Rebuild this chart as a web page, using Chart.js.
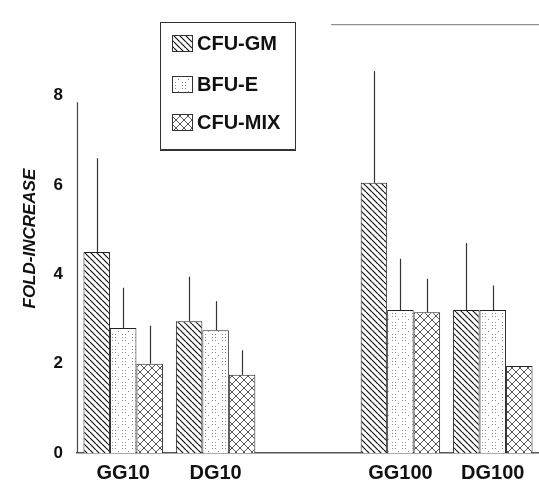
<!DOCTYPE html>
<html>
<head>
<meta charset="utf-8">
<script src="https://cdn.jsdelivr.net/npm/chart.js@4"></script>
<style>
  html, body { margin: 0; padding: 0; background: #fff; }
</style>
</head>
<body>
<canvas id="chart" width="539" height="482"></canvas>
<script>
// ---- data ----
const categories = ["GG10", "DG10", "", "GG100", "DG100"];
const seriesNames = ["CFU-GM", "BFU-E", "CFU-MIX"];
const cfuGM    = [4.5, 2.95, null, 6.05, 3.2];
const bfuE     = [2.8, 2.75, null, 3.2, 3.2];
const cfuMix   = [2.0, 1.75, null, 3.15, 1.95];
// upper end of each error bar
const cfuGMTop  = [6.6, 3.95, null, 8.55, 4.7];
const bfuETop   = [3.7, 3.4, null, 4.35, 3.75];
const cfuMixTop = [2.85, 2.3, null, 3.9, null];
const yTicks = [0, 2, 4, 6, 8];

const FONT = "'Liberation Sans', Arial, Helvetica, sans-serif";
Chart.defaults.font.family = FONT;

const ctx = document.getElementById("chart").getContext("2d");

// ---- fill patterns ----
function makePattern(w, h, draw) {
    const c = document.createElement("canvas");
    c.width = w; c.height = h;
    const g = c.getContext("2d");
    g.fillStyle = "#fff";
    g.fillRect(0, 0, w, h);
    draw(g, w, h);
    return ctx.createPattern(c, "repeat");
}

const diagPattern = makePattern(6, 6, (g, s) => {
    g.strokeStyle = "#111";
    g.lineWidth = 1.2;
    g.beginPath();
    [-1, 0, 1].forEach(k => { g.moveTo(k * s, 0); g.lineTo(k * s + s, s); });
    g.stroke();
});

const dotPattern = makePattern(10, 12, (g) => {
    g.fillStyle = "#8a8a8a";
    [[2, 1], [5, 1], [2, 4], [5, 4], [8, 7], [2, 10], [5, 10]].forEach(p => g.fillRect(p[0], p[1], 1, 1));
});

const crossPattern = makePattern(8, 8, (g, s) => {
    g.strokeStyle = "#444";
    g.lineWidth = 0.9;
    g.beginPath();
    [-1, 0, 1].forEach(k => {
        g.moveTo(k * s, 0); g.lineTo(k * s + s, s);
        g.moveTo(k * s + s, 0); g.lineTo(k * s, s);
    });
    g.stroke();
});

const patterns = [diagPattern, dotPattern, crossPattern];
const errTops = [cfuGMTop, bfuETop, cfuMixTop];

// ---- error bars, axis line and inset legend ----
const extras = {
    id: "extras",
    afterDatasetsDraw(chart) {
        const c = chart.ctx;
        const y = chart.scales.y;
        c.save();
        c.strokeStyle = "#333";
        c.lineWidth = 1.2;
        chart.data.datasets.forEach((ds, i) => {
            chart.getDatasetMeta(i).data.forEach((bar, j) => {
                const top = errTops[i][j];
                if (top == null || ds.data[j] == null) return;
                c.beginPath();
                c.moveTo(Math.round(bar.x) + 0.5, bar.y);
                c.lineTo(Math.round(bar.x) + 0.5, y.getPixelForValue(top));
                c.stroke();
            });
        });
        c.restore();
    },
    afterDraw(chart) {
        const c = chart.ctx;
        const a = chart.chartArea;
        const y = chart.scales.y;
        c.save();
        // vertical axis line
        c.strokeStyle = "#444";
        c.lineWidth = 1.2;
        c.beginPath();
        c.moveTo(a.left + 0.5, y.getPixelForValue(0));
        c.lineTo(a.left + 0.5, y.getPixelForValue(7.85));
        c.stroke();
        // remnant of top frame
        c.strokeStyle = "#777";
        c.lineWidth = 1;
        c.beginPath();
        c.moveTo(a.left + (a.right - a.left) * 0.55, a.top + 0.5);
        c.lineTo(a.right, a.top + 0.5);
        c.stroke();

        // legend box
        c.strokeStyle = "#333";
        c.lineWidth = 1;
        c.strokeRect(160.5, 22.5, 135, 127);
        c.lineWidth = 2;
        c.beginPath();
        c.moveTo(160, 150); c.lineTo(296, 150);
        c.stroke();
        const rows = [43, 84, 122];
        c.font = "bold 20px " + FONT;
        c.textBaseline = "middle";
        chart.data.datasets.forEach((ds, i) => {
            const cy = rows[i];
            c.fillStyle = patterns[i];
            c.fillRect(172, cy - 8, 20, 16);
            c.lineWidth = 1;
            c.strokeStyle = "#333";
            c.strokeRect(172.5, cy - 7.5, 20, 16);
            c.fillStyle = "#111";
            c.fillText(ds.label, 197, cy + 1);
        });
        c.restore();
    }
};

new Chart(ctx, {
    type: "bar",
    data: {
        labels: categories,
        datasets: [
            { label: seriesNames[0], data: cfuGM,  backgroundColor: diagPattern },
            { label: seriesNames[1], data: bfuE,   backgroundColor: dotPattern },
            { label: seriesNames[2], data: cfuMix, backgroundColor: crossPattern }
        ].map(d => Object.assign(d, {
            borderColor: "#222",
            borderWidth: 1,
            categoryPercentage: 0.86,
            barPercentage: 1
        }))
    },
    options: {
        responsive: false,
        animation: false,
        layout: { padding: { top: 9, left: 0, right: 0, bottom: 0 } },
        plugins: {
            legend: { display: false },
            tooltip: { enabled: false }
        },
        scales: {
            x: {
                grid: { display: false, drawTicks: false },
                border: { display: true, color: "#555", width: 1.5 },
                ticks: {
                    color: "#111",
                    padding: 8,
                    font: { size: 20, weight: "bold" }
                },
                afterFit: s => { s.height = 29; }
            },
            y: {
                min: 0,
                max: 9.6,
                afterBuildTicks: s => { s.ticks = yTicks.map(v => ({ value: v })); },
                grid: { display: false, drawTicks: false },
                border: { display: false },
                ticks: {
                    color: "#111",
                    padding: 14,
                    font: { size: 17, weight: "bold" }
                },
                title: {
                    display: true,
                    text: "FOLD-INCREASE",
                    color: "#111",
                    padding: { top: 20, bottom: 0 },
                    font: { size: 17, weight: "bold", style: "italic" }
                },
                afterFit: s => { s.width = 77; }
            }
        }
    },
    plugins: [extras]
});
</script>
</body>
</html>
